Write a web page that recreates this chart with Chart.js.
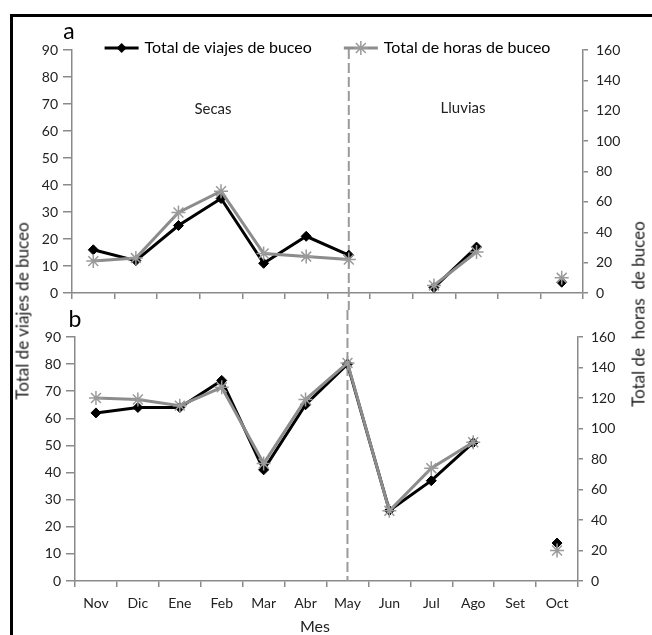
<!DOCTYPE html>
<html><head><meta charset="utf-8">
<script src="https://cdn.jsdelivr.net/npm/chart.js@4.4.0/dist/chart.umd.min.js"></script>
<style>
html,body{margin:0;padding:0;background:#fff;}
#wrap{position:relative;width:652px;height:635px;overflow:hidden;font-family:Lato, "Open Sans", sans-serif;}
#frame{position:absolute;left:10px;top:14px;width:700px;height:700px;border-top:3px solid #000;border-left:3px solid #000;}
canvas{position:absolute;left:0;}
#chartA{top:0;}
#chartB{top:310px;}
.t{position:absolute;white-space:pre;color:#000;line-height:1;transform:translate(-50%,-50%);}
.r{transform:translate(-50%,-50%) rotate(-90deg);}
</style></head>
<body><div id="wrap">
<div id="frame"></div>
<canvas id="chartA" width="652" height="310"></canvas>
<canvas id="chartB" width="652" height="325"></canvas>
<div class="t" style="left:69px;top:30px;font-size:23px">a</div>
<div class="t" style="left:75px;top:318px;font-size:23px">b</div>
<div class="t" style="left:213px;top:108px;font-size:15px;color:#222">Secas</div>
<div class="t" style="left:463px;top:107px;font-size:15px;color:#222">Lluvias</div>
<div class="t" style="left:315px;top:626px;font-size:16px;color:#222">Mes</div>
<div class="t r" style="left:22px;top:311px;font-size:17px;color:#222">Total de viajes de buceo</div>
<div class="t r" style="left:638px;top:314px;font-size:17px;color:#222">Total de  horas  de buceo</div>
</div>
<script>
const months = ['Nov','Dic','Ene','Feb','Mar','Abr','May','Jun','Jul','Ago','Set','Oct'];
const seriesLabels = ['Total de viajes de buceo','Total de horas de buceo'];
// Panel a
const viajesA = [16,12,25,35,11,21,14,null,2,17,null,4];
const horasA  = [21,23,53,67,26,24,22,null,5,27,null,10];
// Panel b
const viajesB = [62,64,64,74,41,65,80,26,37,51,null,14];
const horasB  = [120,119,115,127,77,119,143,46,74,91,null,20];
// Tick labels
const leftTicks  = [0,10,20,30,40,50,60,70,80,90];
const rightTicks = [0,20,40,60,80,100,120,140,160];
const dividerMonth = 'May';

Chart.defaults.font.family = 'Lato, "Open Sans", sans-serif';
Chart.defaults.font.size = 14;
Chart.defaults.color = '#222';

const BLACK = '#000';
const GRAY = '#8c8c8c';
const AXIS = '#8a8a8a';

function datasets(v, h){
  return [
    {label: seriesLabels[0], data: v, yAxisID:'y', borderColor:BLACK, backgroundColor:BLACK,
     borderWidth:3, pointStyle:'rectRot', pointRadius:5, pointBorderWidth:1, order:2, spanGaps:false, tension:0},
    {label: seriesLabels[1], data: h, yAxisID:'y2', borderColor:GRAY, backgroundColor:GRAY,
     pointBorderColor:'#9a9a9a', borderWidth:3, pointStyle:'star', pointRadius:7, pointBorderWidth:1.5, order:1, spanGaps:false, tension:0}
  ];
}

function scales(opts){
  return {
    x: {type:'category', labels: months, offset:true,
        grid:{offset:true, drawOnChartArea:false, tickLength:6, color:AXIS, tickColor:AXIS, lineWidth:1.5},
        border:{color:AXIS, width:1.5},
        ticks:{display:opts.xLabels, padding:8, color:'#222', maxRotation:0, autoSkip:false},
        afterFit: s => { s.height = opts.xh; }},
    y: {position:'left', min:0, max:90,
        afterBuildTicks: s => { s.ticks = leftTicks.map(v => ({value:v})); },
        grid:{drawOnChartArea:false, tickLength:9, tickColor:AXIS, color:AXIS, lineWidth:1.5},
        border:{color:AXIS, width:1.5},
        ticks:{padding:5, color:'#222'},
        afterFit: s => { s.width = opts.yl; }},
    y2: {position:'right', min:0, max:160,
        afterBuildTicks: s => { s.ticks = rightTicks.map(v => ({value:v})); },
        grid:{drawOnChartArea:false, tickLength:5, tickColor:AXIS, color:AXIS, lineWidth:1.5},
        border:{color:AXIS, width:1.5},
        ticks:{padding:8, color:'#222'},
        afterFit: s => { s.width = opts.yr; }}
  };
}

function dividerPlugin(top){
  return {
    id:'divider',
    beforeDatasetsDraw(chart){
      const ctx = chart.ctx, ca = chart.chartArea;
      const x = chart.scales.x.getPixelForValue(months.indexOf(dividerMonth));
      const y0 = top ? ca.top - 1 : 0;
      const y1 = top ? chart.height : ca.bottom;
      ctx.save();
      ctx.strokeStyle = '#9a9a9a'; ctx.lineWidth = 2; ctx.setLineDash([10,4]);
      ctx.beginPath(); ctx.moveTo(x, y0); ctx.lineTo(x, y1); ctx.stroke();
      ctx.restore();
    }
  };
}

function drawDiamond(ctx,x,y,r){
  ctx.beginPath(); ctx.moveTo(x,y-r); ctx.lineTo(x+r,y); ctx.lineTo(x,y+r); ctx.lineTo(x-r,y); ctx.closePath(); ctx.fill();
}
function drawStar(ctx,x,y,r){
  ctx.beginPath();
  for(let i=0;i<4;i++){
    const a = i*Math.PI/4;
    ctx.moveTo(x+Math.cos(a)*r, y+Math.sin(a)*r);
    ctx.lineTo(x-Math.cos(a)*r, y-Math.sin(a)*r);
  }
  ctx.stroke();
}

const legendPlugin = {
  id:'legendA',
  afterDraw(chart){
    const ctx = chart.ctx, ca = chart.chartArea;
    ctx.save();
    ctx.font = '16px Lato, "Open Sans", sans-serif';
    const lineLen = 34, gap = 6, spacing = 32;
    const w = seriesLabels.map(s => ctx.measureText(s).width);
    const total = 2*(lineLen+gap) + w[0] + w[1] + spacing;
    let x = (ca.left + ca.right)/2 - total/2;
    const y = ca.top - 2;
    ctx.strokeStyle = BLACK; ctx.fillStyle = BLACK; ctx.lineWidth = 3;
    ctx.beginPath(); ctx.moveTo(x,y); ctx.lineTo(x+lineLen,y); ctx.stroke();
    drawDiamond(ctx, x+lineLen/2, y, 5);
    ctx.fillStyle = '#000'; ctx.textBaseline = 'middle'; ctx.textAlign = 'left';
    ctx.fillText(seriesLabels[0], x+lineLen+gap, y);
    x += lineLen + gap + w[0] + spacing;
    ctx.strokeStyle = GRAY; ctx.lineWidth = 3;
    ctx.beginPath(); ctx.moveTo(x,y); ctx.lineTo(x+lineLen,y); ctx.stroke();
    ctx.strokeStyle = '#9a9a9a'; ctx.lineWidth = 1.5;
    drawStar(ctx, x+lineLen/2, y, 7);
    ctx.fillStyle = '#000';
    ctx.fillText(seriesLabels[1], x+lineLen+gap, y);
    ctx.restore();
  }
};

new Chart(document.getElementById('chartA'), {
  type:'line',
  data:{labels: months, datasets: datasets(viajesA, horasA)},
  options:{responsive:false, animation:false,
    layout:{padding:{top:50,left:0,right:0,bottom:0}},
    plugins:{legend:{display:false}, tooltip:{enabled:false}},
    scales: scales({xLabels:false, xh:17, yl:72, yr:69})},
  plugins:[dividerPlugin(true), legendPlugin]
});

new Chart(document.getElementById('chartB'), {
  type:'line',
  data:{labels: months, datasets: datasets(viajesB, horasB)},
  options:{responsive:false, animation:false,
    layout:{padding:{top:27,left:0,right:0,bottom:0}},
    plugins:{legend:{display:false}, tooltip:{enabled:false}},
    scales: scales({xLabels:true, xh:54, yl:75, yr:74})},
  plugins:[dividerPlugin(false)]
});
</script>
</body></html>
